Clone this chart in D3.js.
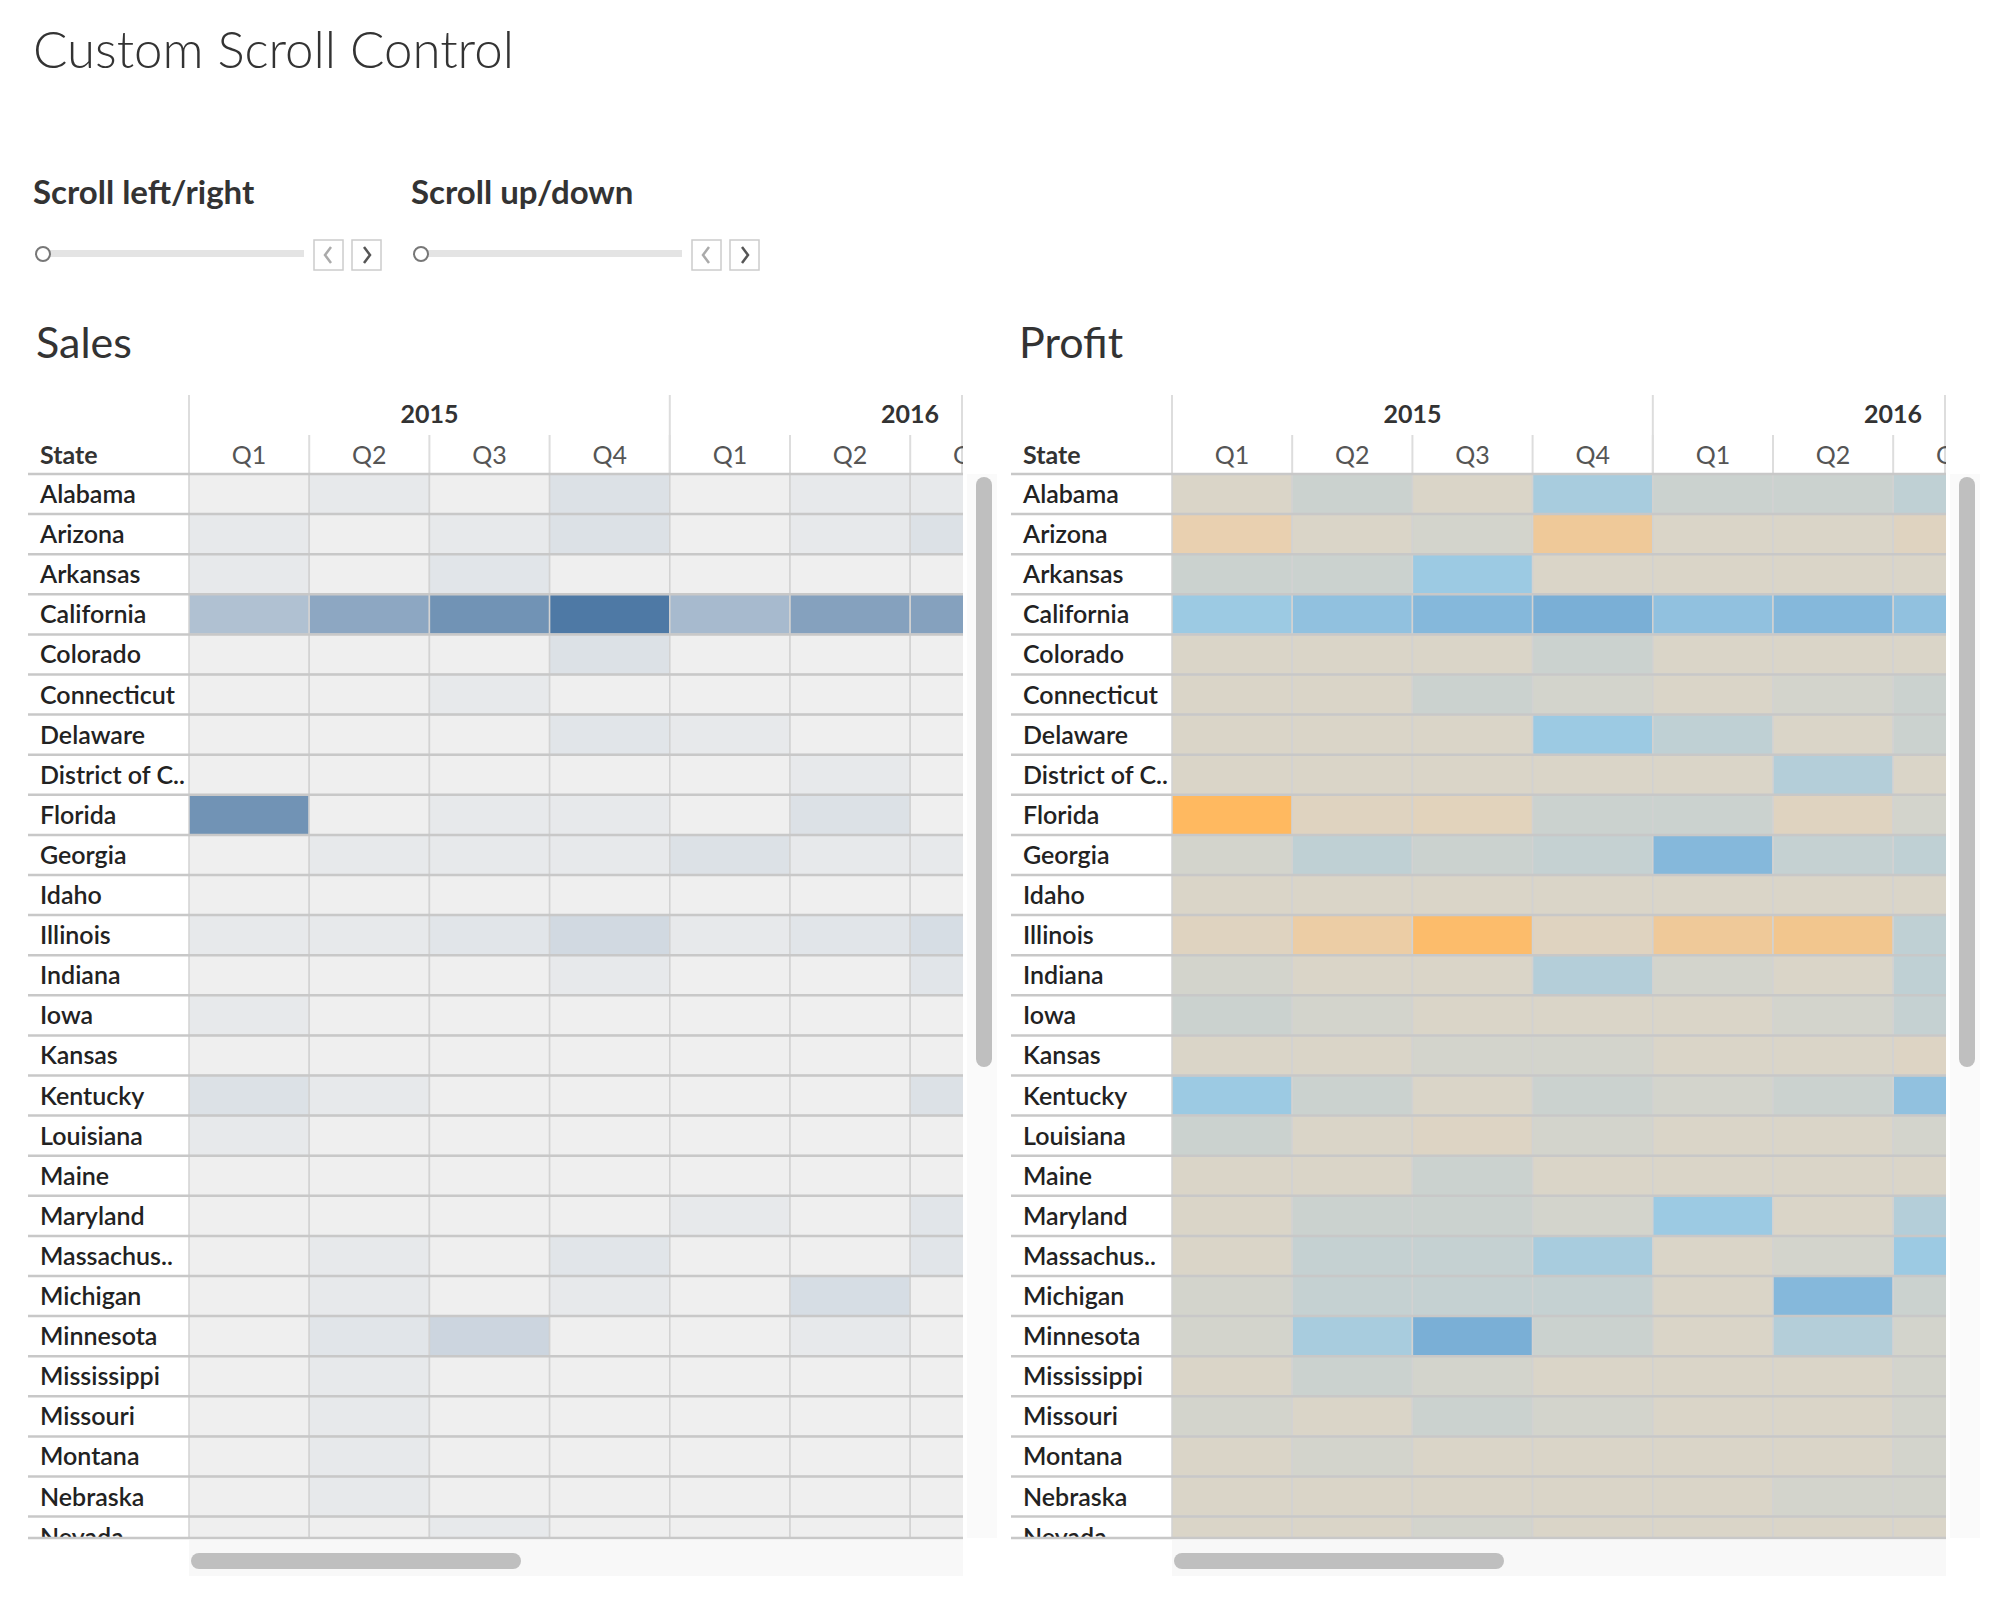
<!DOCTYPE html>
<html><head><meta charset="utf-8">
<script src="https://cdn.jsdelivr.net/npm/d3@7"></script>
<style>body{margin:0;background:#fff}text{font-family:Lato,"Open Sans",sans-serif}</style>
</head><body>
<script>
var states = ["Alabama","Arizona","Arkansas","California","Colorado","Connecticut","Delaware","District of C..","Florida","Georgia","Idaho","Illinois","Indiana","Iowa","Kansas","Kentucky","Louisiana","Maine","Maryland","Massachus..","Michigan","Minnesota","Mississippi","Missouri","Montana","Nebraska","Nevada"];
var years = ["2015","2016"];
var quarters = ["Q1","Q2","Q3","Q4","Q1","Q2","Q3"];

// sales, in thousands (estimated)
var sales = [
  [0,1,0,3,0,1,1],[1,0,1,3,0,1,3],[1,0,2,0,0,0,0],[12,20,27,36,14,22,22],
  [0,0,0,3,0,0,0],[0,0,1,0,0,0,0],[0,0,0,2,1,0,0],[0,0,0,0,0,1,0],
  [27,0,1,1,0,3,0],[0,1,1,1,3,1,1],[0,0,0,0,0,0,0],[1,1,2,5,1,2,4],
  [0,0,0,1,0,0,2],[1,0,0,0,0,0,0],[0,0,0,0,0,0,0],[3,1,0,0,0,0,3],
  [1,0,0,0,0,0,0],[0,0,0,0,0,0,0],[0,0,0,0,1,0,2],[0,1,0,2,0,0,2],
  [0,1,0,1,0,4,0],[0,2,6,0,0,1,0],[0,1,0,0,0,0,0],[0,1,0,0,0,0,0],
  [0,1,0,0,0,0,0],[0,1,0,0,0,0,0],[0,0,1,0,0,0,0]
];
// profit, in thousands (estimated)
var profit = [
  [0,1,0,4,1,1,2],[-3,0,0.5,-5,0,0,-1],[1,1,5,0,0,0,0],[5,6,7,8,6,7,6],
  [0,0,0,1,0,0,0],[0,0,1,0.5,0,0.5,1],[0,0,0,5,2,0,1],[0,0,0,0,0,3,0],
  [-10,-1,-1.5,1,1,-1,0.5],[0.5,2,1,1.5,7,1.5,2],[0,0,0,0,0,0,0],[-1,-4,-9,-1,-5,-6,2],
  [0.5,0,0,3,0.5,0,2],[1,0.5,0,0,0,0.5,1.5],[0,0,0.5,0.5,0,0,-0.5],[5,1,0,1,0.5,1,6],
  [1,0,-0.5,0.5,0,0,0.5],[0,0,1,0,0,0,0],[0,1,1,0.5,5,0,3],[0,1.5,1.5,4,0,0.5,5],
  [0.5,1.5,1.5,1.5,0,7,1],[0.5,4,8,1,0,3,0.5],[0,1,0.5,0,0,0,0.5],[0.5,0,1,0.5,0,0,0.5],
  [0,0.5,0,0,0,0,0.5],[0,0,0,0,0,0.5,0.5],[0,0,0.5,0,0,0,0]
];

var svg = d3.select("body").append("svg").attr("width", 2002).attr("height", 1602);

svg.append("text").attr("x", 33).attr("y", 68).text("Custom Scroll Control")
  .style("font-size", "51px").style("font-weight", 300).attr("fill", "#333");

function slider(x0, label) {
  svg.append("text").attr("x", x0 - 9).attr("y", 204).text(label)
    .style("font-size", "33px").style("font-weight", 700).attr("fill", "#333");
  svg.append("rect").attr("x", x0).attr("y", 250).attr("width", 262).attr("height", 7).attr("fill", "#e4e4e4");
  svg.append("circle").attr("cx", x0 + 1).attr("cy", 254).attr("r", 7)
    .attr("fill", "#fff").attr("stroke", "#777").attr("stroke-width", 2);
  [0, 38].forEach(function(dx, i) {
    var bx = x0 + 272 + dx;
    svg.append("rect").attr("x", bx).attr("y", 240).attr("width", 29).attr("height", 30)
      .attr("fill", "#fff").attr("stroke", "#ccc").attr("stroke-width", 1.5);
    svg.append("path").attr("d", i == 0 ? "M" + (bx+17) + ",247 l-6,8 l6,8" : "M" + (bx+12) + ",247 l6,8 l-6,8")
      .attr("fill", "none").attr("stroke", i == 0 ? "#aaa" : "#555").attr("stroke-width", 2.5);
  });
}
slider(42, "Scroll left/right");
slider(420, "Scroll up/down");

var y = d3.scaleBand().domain(d3.range(states.length)).range([474, 474 + 40.1 * states.length]);

function panel(px, title, data, color, id) {
  var cx0 = px + 161, cx1 = px + 935, top = 474, bottom = 1538;
  var x = d3.scaleBand().domain(d3.range(quarters.length)).range([cx0, cx0 + 120.2 * quarters.length]);
  svg.append("text").attr("x", px + 8).attr("y", 358).text(title)
    .style("font-size", "43px").attr("fill", "#333");

  svg.append("clipPath").attr("id", id).append("rect")
    .attr("x", px).attr("y", 380).attr("width", cx1 - px).attr("height", bottom - 380);
  var g = svg.append("g").attr("clip-path", "url(#" + id + ")");

  // header
  g.append("text").attr("x", px + 12).attr("y", 464).text("State")
    .style("font-size", "25px").style("font-weight", 700).attr("fill", "#333");
  years.forEach(function(yr, i) {
    var xs = x(i * 4), xe = i == 0 ? x(4) : cx1;
    g.append("text").attr("x", i == 0 ? (xs + xe) / 2 : xe - 24).attr("y", 423)
      .attr("text-anchor", i == 0 ? "middle" : "end").text(yr)
      .style("font-size", "25px").style("font-weight", 700).attr("fill", "#333");
    g.append("line").attr("x1", xs).attr("x2", xs).attr("y1", 395).attr("y2", top).attr("stroke", "#ddd").attr("stroke-width", 2);
  });
  g.append("line").attr("x1", cx1 - 1).attr("x2", cx1 - 1).attr("y1", 395).attr("y2", top).attr("stroke", "#ddd").attr("stroke-width", 2);
  g.selectAll(".qt").data(quarters).enter().append("text")
    .attr("x", function(d, i) { return x(i) + x.bandwidth() / 2; }).attr("y", 464)
    .attr("text-anchor", "middle").text(function(d) { return d; })
    .style("font-size", "25px").attr("fill", "#555");
  g.selectAll(".qs").data(quarters).enter().append("line")
    .attr("x1", function(d, i) { return x(i); }).attr("x2", function(d, i) { return x(i); })
    .attr("y1", 435).attr("y2", top).attr("stroke", "#ddd").attr("stroke-width", 2);

  // cells
  var cells = [];
  data.forEach(function(row, r) { row.forEach(function(v, c) { cells.push({ r: r, c: c, v: v }); }); });
  g.selectAll(".cell").data(cells).enter().append("rect")
    .attr("x", function(d) { return x(d.c); }).attr("y", function(d) { return y(d.r); })
    .attr("width", x.bandwidth()).attr("height", y.bandwidth())
    .attr("fill", function(d) { return color(d.v); })
    .attr("stroke", "#d2d2d2").attr("stroke-width", 1.5);

  g.selectAll(".st").data(states).enter().append("text")
    .attr("x", px + 12).attr("y", function(d, i) { return y(i) + 29; })
    .text(function(d) { return d; })
    .style("font-size", "25px").style("font-weight", 600).attr("fill", "#222");
  g.selectAll(".rl").data(states).enter().append("line")
    .attr("x1", px).attr("x2", cx1).attr("y1", function(d, i) { return y(i); }).attr("y2", function(d, i) { return y(i); })
    .attr("stroke", "#c8c8c8").attr("stroke-width", 2.5);
  svg.append("line").attr("x1", px).attr("x2", cx1).attr("y1", bottom).attr("y2", bottom).attr("stroke", "#c8c8c8").attr("stroke-width", 2.5);

  // scrollbars
  svg.append("rect").attr("x", cx0).attr("y", 1540).attr("width", cx1 - cx0).attr("height", 36).attr("fill", "#f8f8f8");
  svg.append("rect").attr("x", cx0 + 2).attr("y", 1553).attr("width", 330).attr("height", 16).attr("rx", 8).attr("fill", "#bfbfbf");
  svg.append("rect").attr("x", cx1 + 4).attr("y", top).attr("width", 30).attr("height", bottom - top).attr("fill", "#fafafa");
  svg.append("rect").attr("x", cx1 + 13).attr("y", 477).attr("width", 16).attr("height", 590).attr("rx", 8).attr("fill", "#bfbfbf");
}

var salesColor = d3.scalePow().exponent(0.85).domain([0, 36]).range(["#efefef", "#4e79a5"]);
var profitColor = d3.scaleLinear().domain([-10, -3, 0, 1, 5, 9])
  .range(["#ffb960", "#e9d0b0", "#dad5c8", "#cbd2cf", "#9ccae3", "#6ea6d2"]);

panel(28, "Sales", sales, salesColor, "c1");
panel(1011, "Profit", profit, profitColor, "c2");
</script>
</body></html>
